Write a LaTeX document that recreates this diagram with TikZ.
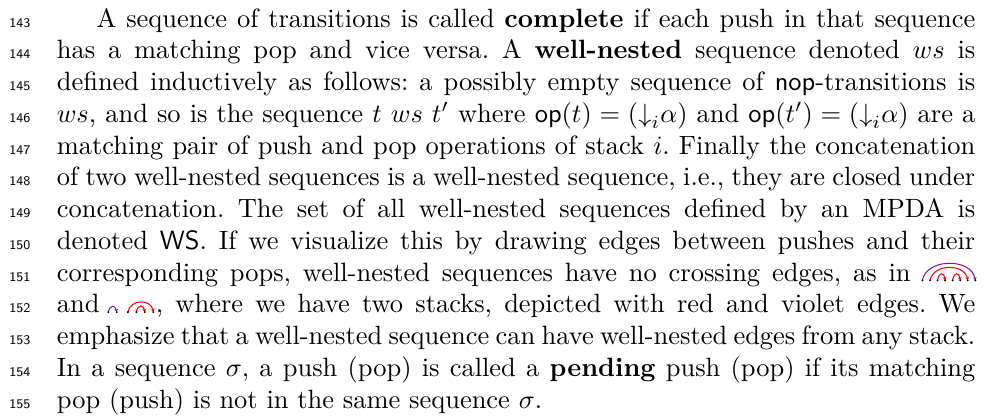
\documentclass[tikz,border=0pt]{standalone}
\usetikzlibrary{arrows.meta,calc}
\newlength\tw
\setlength\tw{347.24pt}
\definecolor{edgered}{RGB}{255,0,0}
\definecolor{edgeviolet}{RGB}{140,20,170}
\tikzset{
  txt/.style={anchor=base west, inner sep=0pt, outer sep=0pt},
  lnum/.style={anchor=base east, inner sep=0pt, outer sep=0pt, font=\tiny\sffamily},
  dot/.style={fill=black},
  redge/.style={draw=edgered, line width=0.4pt, -{Stealth[length=1.2pt,width=1.4pt]}},
  vedge/.style={draw=edgeviolet, line width=0.4pt, -{Stealth[length=1.2pt,width=1.4pt]}}
}
\newcommand{\fullline}[1]{\hbox to \tw{#1}}
\newcommand{\dn}{{\downarrow}}
\frenchspacing
\begin{document}
\begin{tikzpicture}
\frenchspacing
\useasboundingbox (-21.5pt,10.3pt) rectangle (350.9pt,-147.0pt);

% line numbers
\foreach \n [count=\k from 0] in {143,...,155}
  \node[lnum] (n\n) at (-10pt,-12pt*\k) {\n};

% paragraph, one justified line per node
\node[txt] (l143) at (0,0)        {\fullline{\hspace{15pt}A sequence of transitions is called \textbf{complete} if each push in that sequence}};
\node[txt] (l144) at (0,-12pt)    {\fullline{has a matching pop and vice versa. A \textbf{well-nested} sequence denoted $ws$ is}};
\node[txt] (l145) at (0,-24pt)    {\fullline{defined inductively as follows: a possibly empty sequence of $\mathsf{nop}$-transitions is}};
\node[txt] (l146) at (0,-36pt)    {\fullline{$ws$, and so is the sequence $t\ ws\ t'$ where $\mathsf{op}(t)=(\dn_i\alpha)$ and $\mathsf{op}(t')=(\dn_i\alpha)$ are a}};
\node[txt] (l147) at (0,-48pt)    {\fullline{matching pair of push and pop operations of stack $i$. Finally the concatenation}};
\node[txt] (l148) at (0,-60pt)    {\fullline{of two well-nested sequences is a well-nested sequence, i.e., they are closed under}};
\node[txt] (l149) at (0,-72pt)    {\fullline{concatenation. The set of all well-nested sequences defined by an MPDA is}};
\node[txt] (l150) at (0,-84pt)    {\fullline{denoted $\mathsf{WS}$. If we visualize this by drawing edges between pushes and their}};
\node[txt] (l151) at (0,-96pt)    {\fullline{corresponding pops, well-nested sequences have no crossing edges, as in \hspace{20pt}}};
\node[txt] (l152) at (0,-108pt)   {\fullline{and\hspace{3.33pt}\hspace{18pt}, where we have two stacks, depicted with red and violet edges. We}};
\node[txt] (l153) at (0,-120pt)   {\fullline{emphasize that a well-nested sequence can have well-nested edges from any stack.}};
\node[txt] (l154) at (0,-132pt)   {\fullline{In a sequence $\sigma$, a push (pop) is called a \textbf{pending} push (pop) if its matching}};
\node[txt] (l155) at (0,-144pt)   {pop (push) is not in the same sequence $\sigma$.};

% small arc picture at the end of line 151
\begin{scope}[shift={(l151.base east)}, xshift=-20pt, yshift=0.3pt]
  \foreach \i in {0,...,7}
    \coordinate (a\i) at (2.857pt*\i,0);
  \draw[vedge] (a0) .. controls ($(a0)+(1.5pt,8.5pt)$) and ($(a7)+(-1.5pt,8.5pt)$) .. (a7);
  \draw[redge] (a1) .. controls ($(a1)+(1.2pt,6.4pt)$) and ($(a6)+(-1.2pt,6.4pt)$) .. (a6);
  \draw[redge] (a2) .. controls ($(a2)+(0.5pt,3.2pt)$) and ($(a3)+(-0.5pt,3.2pt)$) .. (a3);
  \draw[redge] (a4) .. controls ($(a4)+(0.5pt,3.2pt)$) and ($(a5)+(-0.5pt,3.2pt)$) .. (a5);
  \foreach \i in {0,...,7}
    \fill[dot] (a\i) circle (0.4pt);
\end{scope}

% small arc picture after "and" on line 152
\pgfmathsetmacro{\andw}{width("and")}
\begin{scope}[shift={(l152.base west)}, xshift=\andw pt+3.33pt, yshift=0.3pt]
  \foreach \i/\x in {0/0,1/3.2,2/7.4,3/10.6,4/13.8,5/17}
    \coordinate (b\i) at (\x pt,0);
  \draw[vedge] (b0) .. controls ($(b0)+(0.6pt,2.8pt)$) and ($(b1)+(-0.6pt,2.8pt)$) .. (b1);
  \draw[redge] (b2) .. controls ($(b2)+(0.8pt,5pt)$) and ($(b5)+(-0.8pt,5pt)$) .. (b5);
  \draw[redge] (b3) .. controls ($(b3)+(0.5pt,3pt)$) and ($(b4)+(-0.5pt,3pt)$) .. (b4);
  \foreach \i in {0,...,5}
    \fill[dot] (b\i) circle (0.4pt);
\end{scope}
\end{tikzpicture}
\end{document}
